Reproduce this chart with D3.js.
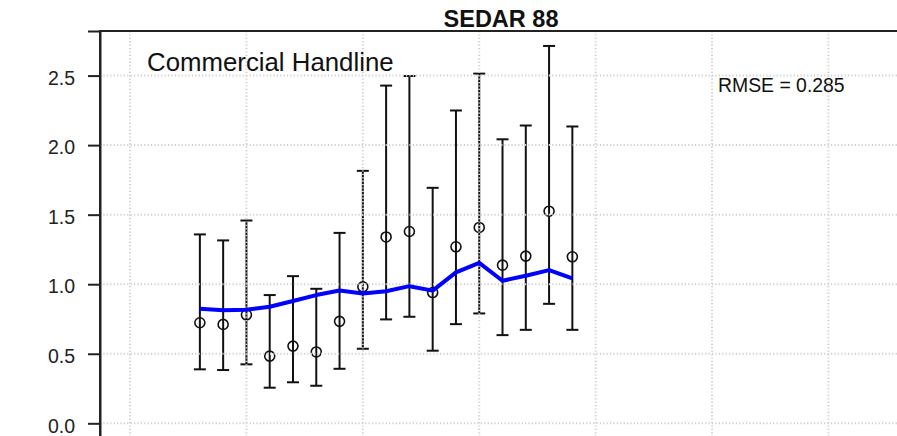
<!DOCTYPE html>
<html>
<head>
<meta charset="utf-8">
<script src="https://cdn.jsdelivr.net/npm/d3@7"></script>
<style>
  html, body { margin: 0; padding: 0; background: #fff; }
  svg { display: block; font-family: "Liberation Sans", Arial, sans-serif; }
</style>
</head>
<body>
<div id="chart"></div>
<script>
// Commercial handline index: observed values with confidence intervals and model fit
const years    = [1993, 1994, 1995, 1996, 1997, 1998, 1999, 2000, 2001, 2002, 2003, 2004, 2005, 2006, 2007, 2008, 2009];
const observed = [0.723, 0.711, 0.780, 0.483, 0.555, 0.513, 0.733, 0.981, 1.340, 1.379, 0.940, 1.269, 1.408, 1.137, 1.202, 1.525, 1.197];
const upperCI  = [1.358, 1.315, 1.458, 0.922, 1.058, 0.967, 1.369, 1.815, 2.428, 2.497, 1.693, 2.249, 2.514, 2.042, 2.141, 2.713, 2.134];
const lowerCI  = [0.388, 0.383, 0.424, 0.256, 0.295, 0.270, 0.392, 0.536, 0.747, 0.766, 0.522, 0.713, 0.790, 0.634, 0.672, 0.859, 0.672];
const expected = [0.823, 0.812, 0.816, 0.838, 0.879, 0.922, 0.955, 0.934, 0.950, 0.986, 0.954, 1.085, 1.154, 1.025, 1.061, 1.101, 1.042];
const yTicks   = [0.0, 0.5, 1.0, 1.5, 2.0, 2.5];
const xGrid    = [1990, 1995, 2000, 2005, 2010, 2015, 2020];
const titleText = "SEDAR 88";
const panelLabel = "Commercial Handline";
const rmseLabel = "RMSE = 0.285";

const W = 897, H = 436;
const plot = { left: 100, top: 31, right: 902, bottom: 438.4 };

const svg = d3.select("#chart").append("svg")
  .attr("width", W).attr("height", H);

const x = d3.scaleLinear().domain([1988.71, 2023.16]).range([plot.left, plot.right]);
const y = d3.scaleLinear().domain([-0.1085, 2.8205]).range([plot.bottom, plot.top]);

const rows = years.map((yr, i) => ({
  year: yr, obs: observed[i], lo: lowerCI[i], hi: upperCI[i], fit: expected[i]
}));

// error bars
const bars = svg.append("g").attr("stroke", "#111").attr("stroke-width", 2).attr("fill", "none");
bars.selectAll("line.v").data(rows).join("line")
  .attr("class", "v")
  .attr("x1", d => x(d.year)).attr("x2", d => x(d.year))
  .attr("y1", d => y(d.lo)).attr("y2", d => y(d.hi));
bars.selectAll("line.top").data(rows).join("line")
  .attr("class", "top")
  .attr("x1", d => x(d.year) - 6).attr("x2", d => x(d.year) + 6)
  .attr("y1", d => y(d.hi)).attr("y2", d => y(d.hi));
bars.selectAll("line.bot").data(rows).join("line")
  .attr("class", "bot")
  .attr("x1", d => x(d.year) - 6).attr("x2", d => x(d.year) + 6)
  .attr("y1", d => y(d.lo)).attr("y2", d => y(d.lo));

// observed points
svg.append("g").selectAll("circle").data(rows).join("circle")
  .attr("cx", d => x(d.year)).attr("cy", d => y(d.obs)).attr("r", 5)
  .attr("fill", "none").attr("stroke", "#111").attr("stroke-width", 1.6);

// dotted reference grid
const grid = svg.append("g")
  .attr("stroke", "#cfcfcf").attr("stroke-width", 2).attr("stroke-dasharray", "1.2,2.2");
grid.selectAll("line.h").data(yTicks).join("line")
  .attr("class", "h")
  .attr("x1", plot.left).attr("x2", plot.right)
  .attr("y1", d => y(d)).attr("y2", d => y(d));
grid.selectAll("line.vg").data(xGrid).join("line")
  .attr("class", "vg")
  .attr("x1", d => x(d)).attr("x2", d => x(d))
  .attr("y1", plot.top).attr("y2", plot.bottom);

// model fit
svg.append("path").datum(rows)
  .attr("fill", "none").attr("stroke", "#0000ff").attr("stroke-width", 4)
  .attr("stroke-linejoin", "round")
  .attr("d", d3.line().x(d => x(d.year)).y(d => y(d.fit)));

// plot frame
svg.append("rect")
  .attr("x", plot.left).attr("y", plot.top)
  .attr("width", plot.right - plot.left).attr("height", plot.bottom - plot.top)
  .attr("fill", "none").attr("stroke", "#222").attr("stroke-width", 2);

// y axis
const yAxis = svg.append("g")
  .attr("transform", `translate(${plot.left},0)`)
  .call(d3.axisLeft(y).tickValues(yTicks).tickFormat(d3.format(".1f")).tickSize(12).tickPadding(13));
yAxis.select(".domain").attr("stroke", "#222").attr("stroke-width", 2);
yAxis.selectAll(".tick line").attr("stroke", "#222").attr("stroke-width", 2);
yAxis.selectAll(".tick text")
  .attr("font-size", 19.5).attr("fill", "#222")
  .attr("font-family", "'Liberation Sans', Arial, sans-serif")
  .attr("dy", "0.45em");

// text
svg.append("text")
  .attr("x", (plot.left + plot.right) / 2).attr("y", 27)
  .attr("text-anchor", "middle").attr("font-weight", "bold").attr("font-size", 23.5)
  .attr("fill", "#111").text(titleText);
svg.append("text")
  .attr("x", 147).attr("y", 71).attr("font-size", 25.8).attr("fill", "#111").text(panelLabel);
svg.append("text")
  .attr("x", 718).attr("y", 91.5).attr("font-size", 19.4).attr("fill", "#111").text(rmseLabel);
</script>
</body>
</html>
